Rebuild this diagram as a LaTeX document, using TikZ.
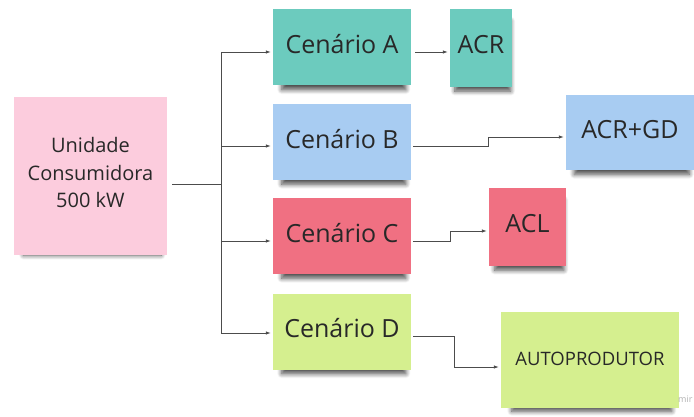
\documentclass[tikz,border=0pt]{standalone}
\usepackage{fontspec}
\setmainfont{Open Sans}
\usetikzlibrary{arrows.meta,shadows.blur}
\definecolor{noteteal}{RGB}{108,203,190}
\definecolor{noteblue}{RGB}{168,204,242}
\definecolor{notered}{RGB}{240,112,130}
\definecolor{notepink}{RGB}{252,204,221}
\definecolor{notelime}{RGB}{213,239,143}
\definecolor{inkgray}{RGB}{40,40,40}

\begin{document}
\begin{tikzpicture}[x=1pt,y=-1pt,
  note/.style={inner sep=0pt,text=inkgray,align=center,text depth=7pt,
    font=\fontsize{25}{30}\selectfont,
    blur shadow={shadow xshift=2pt,shadow yshift=-9pt,shadow scale=0.9,
      shadow opacity=70,shadow blur steps=8,shadow blur radius=5pt}},
  link/.style={draw=black!70,line width=0.8pt,-{Latex[length=5pt,width=3.5pt]},shorten >=2pt},
  trunk/.style={draw=black!70,line width=0.8pt}]
  \useasboundingbox (0,0) rectangle (694,417);
  % consumer unit
  \node[note,fill=notepink,minimum width=153pt,minimum height=158pt,
    font=\fontsize{20}{27.5}\selectfont] (uc) at (90.5,176) {Unidade\\Consumidora\\500 kW};
  % scenarios
  \begin{scope}[every node/.style={note,minimum width=138pt,minimum height=76pt}]
   \node[fill=noteteal] (ca) at (342,47.5) {Cenário A};
   \node[fill=noteblue] (cb) at (342,142) {Cenário B};
   \node[fill=notered] (cc) at (342,236) {Cenário C};
   \node[fill=notelime] (cd) at (342,331.5) {Cenário D};
  \end{scope}
  % markets
  \node[note,fill=noteteal,minimum width=62pt,minimum height=78pt] (acr) at (481,48) {ACR};
  \node[note,fill=noteblue,minimum width=128pt,minimum height=75pt] (acrgd) at (630,132.5) {ACR+GD};
  \node[note,fill=notered,minimum width=77pt,minimum height=78pt] (acl) at (527.5,227) {ACL};
  \node[note,fill=notelime,minimum width=178pt,minimum height=96pt,text depth=3pt,
    font=\fontsize{18.5}{22}\selectfont] (auto) at (590,360) {AUTOPRODUTOR};
  \node[text=black!30,font=\fontsize{9}{10}\selectfont,anchor=west,inner sep=0pt] (mark) at (678,399) {mir};
  % tree from the consumer unit
  \coordinate (split) at (221,184);
  \draw[trunk] ([xshift=5pt,yshift=-8pt]uc.east) -- (split);
  \draw[trunk] (221,52) -- (221,333);
  \foreach \n/\y in {ca/52,cb/146,cc/241,cd/333}{
   \coordinate (j\n) at (221,\y);
   \draw[link] (j\n) -- (j\n -| \n.west);
  }
  % scenario outputs
  \coordinate (oa) at (415,52);
  \coordinate (ob) at (413,146);
  \coordinate (oc) at (413,241);
  \coordinate (od) at (413,336);
  \draw[link] (oa) -- (oa -| acr.west);
  \draw[link] (ob) -- (488,146) |- ([yshift=-4.5pt]acrgd.west);
  \draw[link] (oc) -- (450,241) |- ([yshift=-4pt]acl.west);
  \draw[link] (od) -- (454,336) |- ([yshift=-7pt]auto.west);
\end{tikzpicture}
\end{document}
